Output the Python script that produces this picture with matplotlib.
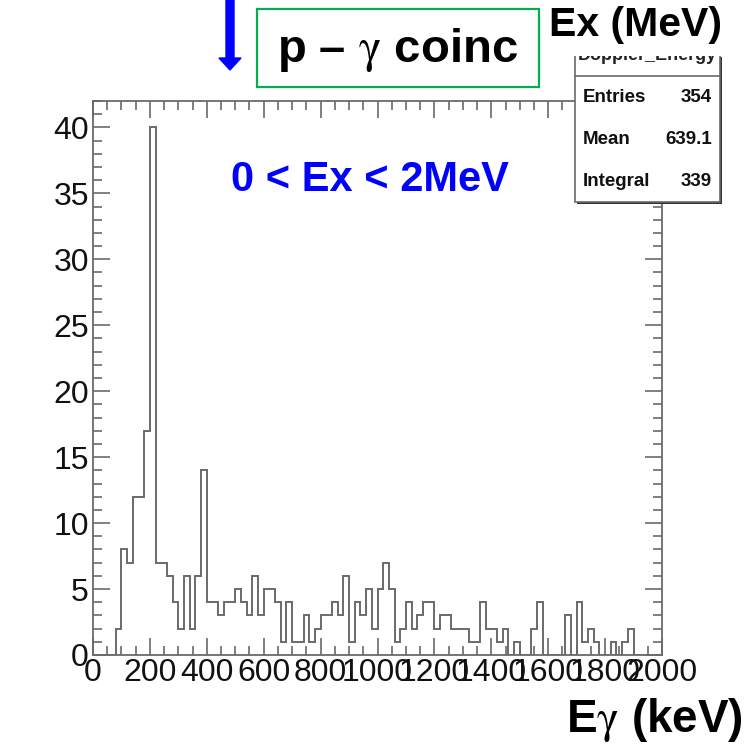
import numpy as np
import matplotlib.pyplot as plt
from matplotlib.patches import Rectangle, FancyArrow
from matplotlib.ticker import MultipleLocator

plt.rcParams['font.family'] = ['Liberation Sans', 'DejaVu Sans']
plt.rcParams['mathtext.fontset'] = 'stix'

# histogram contents, 20 keV bins from 0 to 2000 keV
counts = [0, 0, 0, 0, 2, 8, 7, 12, 12, 17,
          40, 7, 7, 6, 4, 2, 6, 2, 6, 14,
          4, 4, 3, 4, 4, 5, 4, 3, 6, 3,
          5, 5, 4, 1, 4, 1, 1, 3, 1, 2,
          3, 3, 4, 3, 6, 1, 4, 3, 5, 2,
          5, 7, 5, 1, 2, 4, 2, 3, 4, 4,
          2, 3, 3, 2, 2, 2, 1, 1, 4, 2,
          2, 1, 2, 0, 1, 0, 0, 2, 4, 0,
          0, 0, 0, 3, 0, 4, 1, 2, 1, 0,
          0, 1, 0, 1, 2, 0, 0, 0, 0, 0]
x_min, x_max = 0, 2000
edges = np.linspace(x_min, x_max, len(counts) + 1)

stat_names = ['Entries', 'Mean', 'Integral']
stat_values = ['354', '639.1', '339']

W, H = 747, 749
def fx(px):
    return px / W
def fy(py):
    return 1 - py / H

gray = '#6a6a6a'

fig = plt.figure(figsize=(W / 100, H / 100), dpi=100)
ax = fig.add_axes([fx(93), fy(655), (662 - 93) / W, (655 - 101) / H])

ax.stairs(counts, edges, color=gray, lw=1.4)

ax.set_xlim(x_min, x_max)
ax.set_ylim(0, max(counts) * 1.05)
ax.xaxis.set_major_locator(MultipleLocator(200))
ax.xaxis.set_minor_locator(MultipleLocator(50))
ax.yaxis.set_major_locator(MultipleLocator(5))
ax.yaxis.set_minor_locator(MultipleLocator(1))
ax.tick_params(which='both', direction='in', top=True, right=True, color=gray, width=1.2)
ax.tick_params(which='major', length=12.5, labelsize=23, labelcolor='#111111')
ax.tick_params(which='minor', length=6.5)
ax.tick_params(axis='x', pad=2)
ax.tick_params(axis='y', pad=3)
for s in ax.spines.values():
    s.set_color(gray)
    s.set_linewidth(1.3)

# stats box (top partly hidden)
bx0, bx1, by0, by1 = 575, 720, 55, 202
fig.add_artist(Rectangle((fx(bx0 + 2), fy(by1 + 2)), (bx1 - bx0) / W, (by1 - by0) / H,
                         transform=fig.transFigure, facecolor='#333333', edgecolor='none', zorder=4))
fig.add_artist(Rectangle((fx(bx0), fy(by1)), (bx1 - bx0) / W, (by1 - by0) / H,
                         transform=fig.transFigure, facecolor='white', edgecolor=gray, lw=1.2, zorder=4))
fig.add_artist(plt.Line2D([fx(bx0), fx(bx1)], [fy(76), fy(76)], color=gray, lw=1.2, zorder=5))
fig.text(fx(647), fy(55), 'Doppler_Energy', ha='center', va='center', fontsize=13,
         fontweight='bold', color='#222222', zorder=5)
for k, (name, val) in enumerate(zip(stat_names, stat_values)):
    yy = fy(97 + 42 * k)
    fig.text(fx(583), yy, name, ha='left', va='center', fontsize=13.5, fontweight='bold',
             color='#111111', zorder=5)
    fig.text(fx(712), yy, val, ha='right', va='center', fontsize=13.5, fontweight='bold',
             color='#111111', zorder=5)

# white slide area above the stats box
fig.add_artist(Rectangle((fx(560), fy(56)), 190 / W, 56 / H, transform=fig.transFigure,
                         facecolor='white', edgecolor='none', zorder=6))

fig.text(fx(722), fy(25), 'Ex (MeV)', ha='right', va='center', fontsize=29.5,
         fontweight='bold', color='black', zorder=7)

# green label box
fig.add_artist(Rectangle((fx(257), fy(87)), (539 - 257) / W, (87 - 9) / H,
                         transform=fig.transFigure, facecolor='white', edgecolor='#00b050',
                         lw=1.6, zorder=3))
fig.text(fx(397), fy(50), r'p – $\mathrm{\gamma}$ coinc', ha='center', va='center', fontsize=34,
         fontweight='bold', color='black', zorder=4)

# blue arrow
fig.add_artist(FancyArrow(fx(230), fy(0), 0, -70 / H, width=8 / W, head_width=22 / W,
                          head_length=12 / H, length_includes_head=True,
                          transform=fig.transFigure, color='#0000ff', zorder=4))

fig.text(fx(370), fy(180), '0 < Ex < 2MeV', ha='center', va='center', fontsize=30,
         fontweight='bold', color='#0000ff')

fig.text(fx(743), fy(720), r'E$\mathrm{\gamma}$ (keV)', ha='right', va='center', fontsize=33,
         fontweight='bold', color='black')

fig.savefig('out.png', dpi=100)
